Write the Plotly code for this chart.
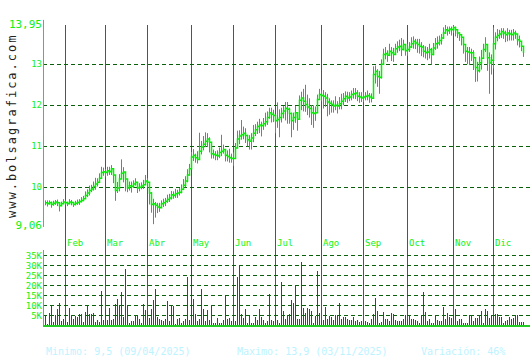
import plotly.graph_objects as go

# ---- data (trading-day index 0..239) ----
close_jan = [9.62, 9.60, 9.63, 9.58, 9.61, 9.64, 9.62, 9.55, 9.60, 9.64]
close_feb = [9.62, 9.60, 9.64, 9.63, 9.58, 9.61, 9.63, 9.65, 9.68, 9.72, 9.80, 9.86, 9.92, 9.96, 10.02, 10.08, 10.12, 10.22, 10.36, 10.38]
close_mar = [10.36, 10.40, 10.38, 10.45, 10.30, 9.92, 9.98, 10.20, 10.34, 10.37, 10.20, 9.98, 10.04, 10.02, 10.08, 10.12, 9.98, 10.00, 10.03, 10.06, 10.15]
close_abr = [10.12, 9.86, 9.58, 9.60, 9.56, 9.52, 9.50, 9.60, 9.62, 9.66, 9.70, 9.74, 9.82, 9.80, 9.84, 9.86, 9.88, 9.95, 10.05, 10.15, 10.30, 10.45]
close_may = [10.74, 10.78, 10.72, 10.68, 10.88, 10.98, 11.05, 11.12, 11.18, 11.10, 10.82, 10.80, 10.78, 10.76, 10.85, 10.88, 10.92, 10.78, 10.75, 10.72, 10.70]
close_jun = [10.70, 10.96, 11.18, 11.25, 11.28, 11.32, 11.26, 11.16, 11.12, 11.20, 11.32, 11.40, 11.48, 11.52, 11.50, 11.55, 11.60, 11.70, 11.82, 11.78, 11.75]
close_jul = [11.62, 11.65, 11.70, 11.80, 11.86, 11.93, 11.90, 11.80, 11.62, 11.70, 11.82, 11.66, 12.12, 12.18, 12.10, 12.02, 11.96, 11.92, 11.82, 11.80, 11.82, 12.14, 12.26]
close_ago = [12.24, 12.22, 12.18, 12.08, 12.05, 12.02, 11.98, 12.00, 11.98, 12.04, 12.10, 12.16, 12.22, 12.18, 12.20, 12.26, 12.28, 12.30, 12.22, 12.20, 12.18]
close_sep = [12.20, 12.22, 12.24, 12.20, 12.17, 12.75, 12.83, 12.70, 12.68, 13.00, 13.24, 13.26, 13.22, 13.32, 13.28, 13.24, 13.38, 13.42, 13.44, 13.36, 13.48, 13.33]
close_oct = [13.36, 13.42, 13.50, 13.56, 13.52, 13.48, 13.44, 13.42, 13.32, 13.28, 13.30, 13.36, 13.24, 13.40, 13.50, 13.52, 13.58, 13.64, 13.76, 13.84, 13.82, 13.86, 13.84]
close_nov = [13.90, 13.84, 13.76, 13.72, 13.66, 13.48, 13.32, 13.30, 13.28, 13.28, 13.16, 12.92, 12.84, 13.04, 13.15, 13.36, 13.48, 13.16, 13.03, 13.10]
close_dic = [13.50, 13.66, 13.70, 13.74, 13.80, 13.76, 13.72, 13.76, 13.74, 13.72, 13.76, 13.74, 13.60, 13.56, 13.44, 13.28]

# distance of daily high above close / low below close, in cents
up_cents = ([6, 8, 5, 7, 6, 5, 8, 6, 5, 7]
            + [6, 5, 7, 6, 5, 6, 7, 6, 8, 7, 10, 9, 12, 10, 12, 15, 10, 12, 14, 10]
            + [8, 10, 12, 9, 6, 20, 15, 12, 34, 12, 10, 8, 10, 12, 9, 10, 8, 10, 9, 12, 15]
            + [10, 15, 30, 12, 8, 10, 12, 8, 10, 8, 12, 10, 9, 10, 12, 8, 10, 12, 15, 12, 14, 12]
            + [12, 15, 10, 20, 45, 15, 20, 22, 14, 12, 15, 12, 10, 14, 12, 40, 12, 14, 15, 22, 12]
            + [15, 12, 20, 14, 36, 16, 18, 12, 15, 12, 20, 14, 12, 15, 10, 14, 22, 15, 12, 16, 14]
            + [16, 42, 20, 14, 12, 15, 18, 14, 20, 12, 16, 14, 12, 15, 30, 48, 30, 25, 18, 20, 15, 12, 14]
            + [12, 15, 14, 20, 12, 10, 14, 22, 12, 16, 18, 14, 12, 15, 12, 10, 14, 12, 15, 12, 14]
            + [12, 10, 12, 10, 12, 20, 14, 18, 16, 12, 14, 16, 12, 18, 14, 16, 12, 14, 16, 28, 12, 14]
            + [14, 12, 16, 12, 10, 14, 18, 12, 15, 16, 12, 14, 16, 12, 14, 16, 12, 10, 14, 12, 10, 6, 8]
            + [5, 8, 10, 6, 8, 12, 10, 12, 14, 10, 18, 20, 22, 15, 20, 14, 18, 22, 26, 14]
            + [40, 12, 16, 10, 8, 12, 10, 12, 10, 12, 10, 8, 12, 14, 10, 12])
dn_cents = ([6, 7, 5, 8, 6, 7, 8, 14, 6, 5]
            + [5, 6, 5, 7, 6, 5, 6, 8, 5, 6, 8, 10, 12, 8, 10, 14, 10, 12, 15, 10]
            + [10, 12, 8, 15, 20, 25, 12, 30, 10, 25, 30, 10, 12, 15, 10, 8, 12, 10, 8, 10, 8]
            + [12, 28, 20, 50, 30, 15, 10, 8, 10, 12, 8, 10, 12, 8, 10, 12, 8, 10, 12, 15, 18, 16]
            + [15, 14, 12, 10, 12, 18, 15, 14, 20, 25, 12, 10, 12, 10, 14, 12, 10, 15, 12, 12, 10]
            + [18, 15, 14, 20, 12, 15, 18, 16, 20, 28, 22, 15, 18, 20, 26, 15, 12, 18, 15, 20, 16]
            + [30, 20, 48, 22, 18, 30, 35, 25, 40, 30, 25, 28, 20, 30, 25, 18, 20, 22, 30, 35, 20, 15, 12]
            + [14, 30, 22, 35, 28, 20, 16, 12, 18, 14, 20, 16, 14, 12, 10, 14, 12, 15, 12, 14, 10]
            + [12, 10, 12, 14, 10, 20, 30, 25, 40, 35, 15, 14, 16, 12, 20, 18, 15, 14, 12, 16, 14, 12]
            + [15, 12, 10, 18, 15, 20, 18, 22, 15, 14, 20, 22, 25, 18, 15, 14, 12, 16, 14, 10, 12, 12, 14]
            + [14, 16, 12, 15, 20, 22, 26, 30, 30, 20, 30, 35, 26, 24, 28, 22, 18, 32, 75, 35]
            + [60, 30, 14, 12, 16, 14, 18, 20, 16, 14, 18, 12, 14, 15, 12, 10])

# daily volume, thousands of shares
volume_k = ([5.3, 1, 6.3, 10.3, 2, 5.3, 8.3, 11.3, 2.5, 3.3, 3,
             2, 9, 5.3, 3.7, 5, 4.7, 6, 6, 2, 7, 10.3, 6, 6, 6.3, 2, 3, 2, 17.5, 3, 8.3,
             3, 9, 3, 3.7, 11, 13.3, 10.7, 17, 4.7, 28.3, 10.3, 1.7, 2.7, 2.7, 5.3, 5.3, 3.7, 1.7, 11, 8,
             7.7, 4, 8.3, 13, 18.3, 4.3, 3.7, 3, 2.3, 3.7, 12.5, 2.7, 10, 10, 0.7, 3.7, 4]
            + [1.3, 2.7, 3.7, 24.7, 3, 38, 13.7, 6, 2.7, 3.7,
               18.3, 8.7, 2.7, 8, 3, 10.3, 1.7, 1.7, 4, 1.7,
               1.7, 3, 15, 3.7, 4, 2.3, 3.7, 2.7, 24.7, 30.3,
               6, 4, 8.3, 1.7, 5, 1.7, 1.7, 4.3, 3, 8.7,
               4.3, 3, 1.7, 2.3, 16, 3, 2.7, 6.3, 3, 1.7,
               22, 7.7, 3.7, 5.7, 6, 13, 11.7, 20.3, 3.7, 3.3,
               32, 9, 6.7, 9, 8.7, 7.7, 1.7, 5, 27.7, 6.7,
               3, 3, 9.7, 3.7, 5, 4.7, 3, 5.3, 5, 11.7,
               3.7, 4.7, 4.7, 3.3, 3]
            + [3, 4.7, 2.3, 3, 2, 2.3, 2, 2.7, 2, 1.7,
               3.7, 6, 14, 7.3, 1.3, 2, 7, 3.7, 3.7, 2.7,
               6.7, 6, 3, 2.7, 2.3, 2.7, 3.7, 5.3, 3.7, 5.3,
               3.7, 3.7, 3, 2.3, 1.3, 5.3, 17, 7, 2.7, 3.7,
               1.7, 1.7, 5.3, 3, 2.3, 2.7, 9.7, 3.7, 6.7, 4.3,
               4, 5.3, 8.7, 2.3, 3.7, 3.7, 1.7, 1.3, 1.3, 5.3,
               5.3, 2.3, 4, 4, 5.3, 7.3, 1.7, 8.3, 7.7, 4,
               5.3, 5.3, 6, 6, 4.7, 4.3, 1.7, 2.7, 3, 4.3,
               3.7, 4, 5.3, 5.3, 2, 2, 2])

month_labels = ["Feb", "Mar", "Abr", "May", "Jun", "Jul", "Ago", "Sep", "Oct", "Nov", "Dic"]
month_start_idx = [10, 30, 51, 73, 94, 115, 138, 159, 181, 204, 224]

price_ticks = [9.06, 10, 11, 12, 13, 13.95]
price_ticktext = ["<span style='font-size:11px'>9,06</span>", "10", "11", "12", "13",
                  "<span style='font-size:11px'>13,95</span>"]
vol_ticks = [5000, 10000, 15000, 20000, 25000, 30000, 35000]
vol_ticktext = ["5K", "10K", "15K", "20K", "25K", "30K", "35K"]

footer_min = "Minimo: 9,5 (09/04/2025)"
footer_max = "Maximo: 13,9 (03/11/2025)"
footer_var = "Variación: 46%"
watermark = "www.bolsagrafica.com"

# ---- build ----
closes = (close_jan + close_feb + close_mar + close_abr + close_may + close_jun
          + close_jul + close_ago + close_sep + close_oct + close_nov + close_dic)
n = len(closes)
idx = list(range(n))
highs = [c + u / 100 for c, u in zip(closes, up_cents)]
lows = [c - d / 100 for c, d in zip(closes, dn_cents)]
volumes = [v * 1000 for v in volume_k]

hl_x, hl_y = [], []
for i in idx:
    hl_x += [i, i, None]
    hl_y += [lows[i], highs[i], None]

MONO = "DejaVu Sans Mono"
GREEN_TXT = "#11f011"
GRID = "#0a600a"

fig = go.Figure()
fig.add_trace(go.Scatter(x=hl_x, y=hl_y, mode="lines",
                         line=dict(color="#16a3b6", width=1), hoverinfo="skip",
                         xaxis="x", yaxis="y"))
fig.add_trace(go.Scatter(x=idx, y=closes, mode="lines",
                         line=dict(color="#00f000", width=1.5, shape="hv"),
                         xaxis="x", yaxis="y"))
fig.add_trace(go.Bar(x=idx, y=volumes, width=0.5,
                     marker=dict(color="#e00000", line=dict(width=0)),
                     xaxis="x2", yaxis="y2"))

main_dom = [0.3322, 1.0]
vol_dom = [0.0, 0.2525]
xr = [-1.25, 242.25]

fig.update_layout(
    width=530, height=360,
    margin=dict(l=43, r=0, t=25, b=34),
    paper_bgcolor="white", plot_bgcolor="white",
    showlegend=False, bargap=0,
    xaxis=dict(domain=[0, 1], range=xr, anchor="y", showgrid=False, zeroline=False,
               showticklabels=False, showline=False, ticks=""),
    xaxis2=dict(domain=[0, 1], range=xr, anchor="y2", matches="x", showgrid=False,
                zeroline=False, showticklabels=False, showline=False, ticks=""),
    yaxis=dict(domain=main_dom, range=[9.055, 13.958], tickvals=price_ticks,
               ticktext=price_ticktext, showgrid=True, gridcolor=GRID, gridwidth=1,
               griddash="4px,3px", zeroline=False, showline=False, ticks="",
               tickfont=dict(family=MONO, size=9, color=GREEN_TXT)),
    yaxis2=dict(domain=vol_dom, range=[0, 38000], tickvals=vol_ticks,
                ticktext=vol_ticktext, showgrid=True, gridcolor=GRID, gridwidth=1,
                griddash="4px,3px", zeroline=False, showline=False, ticks="",
                tickfont=dict(family=MONO, size=9, color=GREEN_TXT)),
)

shapes = []
for m in month_start_idx:
    shapes.append(dict(type="line", xref="x", yref="paper", x0=m, x1=m, y0=0, y1=1,
                       line=dict(color="#0a870a", width=1), layer="below"))
# left axis lines
shapes.append(dict(type="line", xref="paper", yref="paper", x0=0.001, x1=0.001,
                   y0=main_dom[0] - 0.003, y1=1.017, line=dict(color="#22dd22", width=1)))
shapes.append(dict(type="line", xref="paper", yref="paper", x0=0.001, x1=0.001,
                   y0=0, y1=vol_dom[1], line=dict(color="#22dd22", width=1)))
# bottom volume axis
shapes.append(dict(type="line", xref="paper", yref="paper", x0=0, x1=1,
                   y0=0, y1=0, line=dict(color="#22cc22", width=2)))
fig.update_layout(shapes=shapes)

ann = []
for lab, m in zip(month_labels, month_start_idx):
    ann.append(dict(x=m, xref="x", y=(326 - 243) / 301, yref="paper", text=lab,
                    showarrow=False, xanchor="left", yanchor="middle", xshift=-1,
                    font=dict(family=MONO, size=9, color=GREEN_TXT)))
fy = -(351 - 326) / 301
ann.append(dict(x=0.002, xref="paper", y=fy, yref="paper",
                text=footer_min, showarrow=False, xanchor="left", yanchor="middle",
                font=dict(family=MONO, size=10, color="#bdf3ff")))
ann.append(dict(x=(235 - 43) / 487, xref="paper", y=fy, yref="paper",
                text=footer_max, showarrow=False, xanchor="left", yanchor="middle",
                font=dict(family=MONO, size=10, color="#bdf3ff")))
ann.append(dict(x=(419 - 43) / 487, xref="paper", y=fy, yref="paper",
                text=footer_var, showarrow=False, xanchor="left", yanchor="middle",
                font=dict(family=MONO, size=10, color="#bdf3ff")))
ann.append(dict(x=-31 / 487, xref="paper", y=(326 - 126) / 301, yref="paper",
                text="<span style='letter-spacing:2px'>" + watermark + "</span>",
                textangle=-90, showarrow=False, xanchor="center", yanchor="middle",
                font=dict(family=MONO, size=12, color="#222222")))
fig.update_layout(annotations=ann)

fig.write_html("out.html")
